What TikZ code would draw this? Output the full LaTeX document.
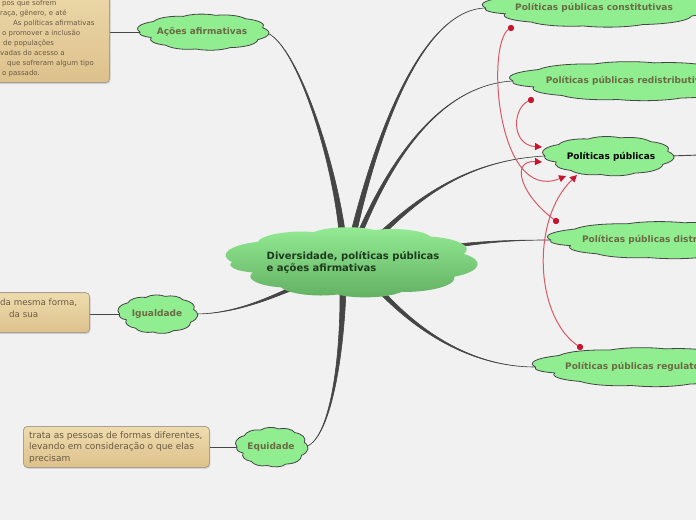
\documentclass[tikz,border=0pt]{standalone}
\usepackage{fontspec}
\setmainfont{DejaVu Sans}
\usetikzlibrary{calc,arrows.meta,shadows}
\definecolor{bgc}{HTML}{F1F1F1}
\definecolor{cloudg}{HTML}{90EE90}
\definecolor{cloudtop}{HTML}{94EC94}
\definecolor{cloudbot}{HTML}{62AF62}
\definecolor{subtxt}{HTML}{6B6A44}
\definecolor{maintxt}{HTML}{1E3A1E}
\definecolor{notetop}{HTML}{EEDCAE}
\definecolor{notebot}{HTML}{DDC18C}
\definecolor{noteline}{HTML}{A8A090}
\definecolor{notetxt}{HTML}{6A5A42}
\definecolor{connc}{HTML}{454545}
\definecolor{redl}{HTML}{D65A66}
\definecolor{redd}{HTML}{C8142E}
\pgfdeclarelayer{back}
\pgfdeclarelayer{links}
\pgfdeclarelayer{clouds}
\pgfsetlayers{back,links,clouds,main}
\newcommand\tapr[5]{\fill[taper] ($#1+#5$) .. controls ($#2+0.5*#5$) and #3 .. #4 .. controls #3 and ($#2-0.5*#5$) .. ($#1-#5$) -- cycle;}
% cloud outline around a named node: #1 node, #2 half width, #3 half height, #4 style, #5 bend
\newcommand\cloudout[5]{%
 \begin{scope}[shift={(#1.center)}, xscale=#2, yscale=#3]
 \path[#4] (-1,0) to[bend left=#5] (-0.78,-0.62) to[bend left=#5] (-0.30,-0.92)
   to[bend left=#5] (0.22,-0.98) to[bend left=#5] (0.70,-0.78)
   to[bend left=#5] (0.98,-0.25) to[bend left=#5] (0.90,0.45)
   to[bend left=#5] (0.45,0.92) to[bend left=#5] (-0.10,1.0)
   to[bend left=#5] (-0.58,0.78) to[bend left=#5] (-0.82,0.32)
   to[bend left=#5] (-1,0) -- cycle;
 \end{scope}}
\begin{document}
\begin{tikzpicture}[x=1pt,y=-1pt]
\tikzset{
 ctext/.style={rectangle, inner sep=0pt, font=\bfseries\fontsize{9}{11}\selectfont, text=subtxt},
 subcloud/.style={draw=connc, line width=0.8pt, fill=cloudg},
 maincloud/.style={top color=cloudtop, bottom color=cloudbot},
 notebox/.style={rectangle, rounded corners=4pt, draw=noteline, line width=0.8pt, top color=notetop, bottom color=notebot, drop shadow={opacity=0.25, shadow xshift=1pt, shadow yshift=-1.5pt}},
 notetext/.style={font=\fontsize{9}{11.5}\selectfont, text=notetxt, align=left, inner sep=0pt},
 thinconn/.style={draw=connc, line width=0.9pt},
 taper/.style={fill=connc, draw=connc, line width=0.6pt},
 rel/.style={draw=redl, line width=1pt, -{Triangle[length=7pt,width=7pt,fill=redd,color=redd]}},
 reldot/.style={circle, fill=redd, inner sep=0pt, minimum size=6pt},
}
\useasboundingbox (0,0) rectangle (696,520);
\clip (0,0) rectangle (696,520);
\begin{pgfonlayer}{back}
\fill[bgc] (0,0) rectangle (696,520);
\end{pgfonlayer}

% central
\node[ctext, font=\bfseries\fontsize{10}{12}\selectfont, text=maintxt, align=left, minimum width=234pt, minimum height=63pt] (mc) at (349,262) {\hspace*{8pt}Diversidade, políticas públicas\\\hspace*{8pt}e ações afirmativas};

% left clouds
\node[ctext, minimum width=124pt, minimum height=34pt] (ac) at (202,32) {Ações afirmativas};
\node[ctext, minimum width=75pt, minimum height=36pt] (ig) at (157,314) {Igualdade};
\node[ctext, minimum width=68pt, minimum height=37pt] (eq) at (271,447) {Equidade};

% right clouds
\node[ctext, minimum width=217pt, minimum height=36pt] (cons) at (594,8) {Políticas públicas constitutivas};
\node[ctext, minimum width=232pt, minimum height=37pt] (redi) at (629,81) {Políticas públicas redistributivas};
\node[ctext, minimum width=124pt, minimum height=37pt, text=black, text depth=0pt] (pp) at (607,156) {\hspace*{8pt}Políticas públicas};
\node[ctext, minimum width=219pt, minimum height=35pt] (dist) at (660,240) {Políticas públicas distributivas};
\node[ctext, minimum width=213pt, minimum height=37pt] (reg) at (642,367) {Políticas públicas regulatórias};

\begin{pgfonlayer}{clouds}
\cloudout{mc}{117}{32.5}{maincloud}{50}
\cloudout{ac}{62}{17}{subcloud}{42}
\cloudout{ig}{37.4}{18}{subcloud}{45}
\cloudout{eq}{34}{18.5}{subcloud}{45}
\cloudout{cons}{108.4}{18}{subcloud}{38}
\cloudout{redi}{116}{18.5}{subcloud}{38}
\cloudout{pp}{62}{18.5}{subcloud}{42}
\cloudout{dist}{109.3}{17.6}{subcloud}{38}
\cloudout{reg}{106.5}{18.5}{subcloud}{38}
\end{pgfonlayer}

% notes
\node[notebox, minimum width=200pt, minimum height=110pt, anchor=south east] (n1) at (110,83) {};
\node[notetext, font=\fontsize{7}{10}\selectfont, anchor=north west] (n1t) at (0,0) {\hspace*{2pt}pos que sofrem\\raça, gênero, e até\\\hspace*{13pt}As políticas afirmativas\\\hspace*{2pt}o promover a inclusão\\\hspace*{3pt}de populações\\vadas do acesso a\\\hspace*{7pt}que sofreram algum tipo\\\hspace*{2pt}o passado.};
\node[notebox, minimum width=140pt, minimum height=40pt, anchor=south east] (n2) at (90,333) {};
\node[notetext, font=\fontsize{8.7}{11.5}\selectfont, anchor=north west] (n2t) at (0,299) {da mesma forma,\\\hspace*{9pt}da sua};
\node[notebox, minimum width=186pt, minimum height=41pt, anchor=north west] (n3) at (23,426) {};
\node[notetext, anchor=north west] (n3t) at (29,431) {trata as pessoas de formas diferentes,\\levando em consideração o que elas\\precisam};

\coordinate (ppend) at (700,155);
\coordinate (pa1) at (566,176);
\coordinate (pa2) at (542,147);
\coordinate (pa3) at (542,162);
\coordinate (pa4) at (577,175);
\node[reldot] (d1) at (511,28) {};
\node[reldot] (d2) at (531,100) {};
\node[reldot] (d3) at (556,221) {};
\node[reldot] (d4) at (580,347) {};

\begin{pgfonlayer}{links}
\coordinate (sA) at (343,240);
\coordinate (sC) at (352,240);
\coordinate (sR) at (357,240);
\coordinate (sP) at (375,240);
\coordinate (sD) at (440,248);
\coordinate (sG) at (375,285);
\coordinate (sE) at (343,290);
\coordinate (sI) at (300,285);
\tapr{(sA)}{(335,160)}{(295,38)}{(ac.east)}{(3.2,0)}
\tapr{(sC)}{(375,140)}{(420,10)}{(cons.west)}{(3,0)}
\tapr{(sR)}{(390,160)}{(440,85)}{(redi.west)}{(2.6,0)}
\tapr{(sP)}{(420,195)}{(470,160)}{(pp.west)}{(2.3,1.2)}
\tapr{(sD)}{(480,242)}{(510,240)}{(dist.west)}{(0,2)}
\tapr{(sG)}{(415,330)}{(470,367)}{(reg.west)}{(1.7,-1.7)}
\tapr{(sE)}{(342,360)}{(330,440)}{(eq.east)}{(3,0)}
\tapr{(sI)}{(270,298)}{(235,314)}{(ig.east)}{(0,2.2)}
\draw[thinconn] (ac.west) -- (ac.west -| n1.east);
\draw[thinconn] (ig.west) -- (ig.west -| n2.east);
\draw[thinconn] (eq.west) -- (eq.west -| n3.east);
\draw[thinconn] (pp.east) -- (ppend);
\end{pgfonlayer}

\draw[rel] (d1.center) .. controls (485,35) and (495,205) .. (pa1);
\draw[rel] (d2.center) .. controls (512,105) and (510,145) .. (pa2);
\draw[rel] (d3.center) .. controls (520,195) and (510,160) .. (pa3);
\draw[rel] (d4.center) .. controls (535,320) and (530,220) .. (pa4);
\node[reldot] at (d1) {};
\node[reldot] at (d2) {};
\node[reldot] at (d3) {};
\node[reldot] at (d4) {};
\end{tikzpicture}
\end{document}
